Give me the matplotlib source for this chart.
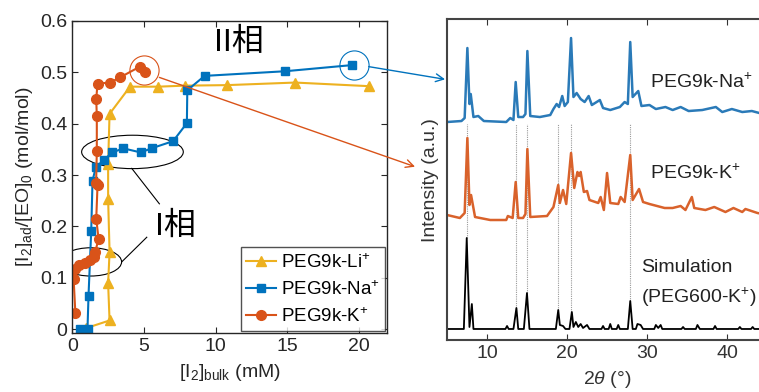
import matplotlib
matplotlib.use("Agg")
import numpy as np
from matplotlib import pyplot as plt
from matplotlib.patches import Ellipse, ConnectionPatch

plt.rcParams['font.family'] = ['Liberation Sans', 'Noto Sans CJK JP', 'DejaVu Sans']
plt.rcParams['mathtext.fontset'] = 'custom'
plt.rcParams['mathtext.rm'] = 'Liberation Sans'
plt.rcParams['mathtext.it'] = 'Liberation Sans:italic'

# --- adsorption isotherms: [I2]bulk (mM) vs [I2]ad/[EO]0 ---
li_x = [0.95, 2.6, 2.5, 2.6, 2.5, 2.5, 2.6, 4.03, 6.0, 7.85, 10.8, 15.56, 20.7]
li_y = [0.002, 0.017, 0.089, 0.150, 0.254, 0.322, 0.419, 0.472, 0.472, 0.474, 0.475, 0.480, 0.473]

na_x = [0.56, 1.06, 1.13, 1.32, 1.41, 1.64, 2.22, 2.8, 3.56, 4.77, 5.53, 7.04, 8.0, 8.03, 9.24, 14.86, 19.54]
na_y = [0.001, 0.001, 0.065, 0.192, 0.289, 0.315, 0.330, 0.344, 0.352, 0.344, 0.352, 0.366, 0.401, 0.465, 0.493, 0.502, 0.514]

k_x = [0.21, 0.09, 0.21, 0.44, 0.9, 1.25, 1.48, 1.6, 1.83, 1.67, 1.76, 1.66, 1.71, 1.71, 1.67, 1.76, 2.64, 3.33, 4.72, 5.07]
k_y = [0.032, 0.098, 0.118, 0.124, 0.128, 0.134, 0.140, 0.150, 0.176, 0.215, 0.280, 0.284, 0.346, 0.414, 0.448, 0.478, 0.480, 0.490, 0.511, 0.501]

# --- XRD patterns: 2theta (deg) vs intensity (a.u., stacked) ---
na_tt = [5.0, 6.8, 7.2, 7.54, 7.8, 7.96, 8.3, 8.9, 9.6, 12.4, 12.9, 13.3, 13.58, 13.9, 14.5, 14.8, 15.04, 15.4,
         16.6, 17.9, 18.3, 18.7, 19.0, 19.4, 19.7, 20.1, 20.5, 20.8, 21.2, 21.7, 22.2, 22.7, 23.1, 24.1, 24.5,
         25.4, 26.6, 27.2, 27.6, 27.9, 28.2, 28.9, 29.3, 30.3, 31.1, 32.3, 33.2, 34.2, 35.2, 36.9, 38.6, 39.4,
         40.6, 41.9, 43.1, 44.5]
na_int = [218, 219, 222, 292, 236, 246, 223, 224, 219, 218, 222, 220, 258, 223, 223, 226, 289, 224,
          223, 225, 231, 236, 233, 244, 234, 238, 302, 243, 247, 241, 238, 244, 235, 240, 232,
          230, 233, 238, 236, 298, 243, 249, 234, 235, 231, 233, 230, 233, 229, 230, 233, 228,
          231, 228, 229, 226]

k_tt = [5.0, 6.6, 7.2, 7.54, 7.8, 8.0, 8.5, 10.4, 12.4, 12.6, 13.2, 13.58, 13.9, 14.5, 14.8, 15.04, 15.4,
        17.5, 18.3, 18.9, 19.1, 19.5, 19.9, 20.5, 20.9, 21.3, 21.5, 21.7, 22.1, 22.5, 22.8, 23.9, 24.2, 24.6,
        25.0, 25.4, 26.4, 26.7, 27.2, 27.9, 28.2, 29.0, 29.5, 30.3, 32.2, 33.2, 34.2, 34.8, 35.6, 35.9, 37.3,
        38.4, 39.8, 40.8, 41.9, 42.3, 43.8, 44.5]
k_int = [125, 122, 127, 202, 135, 145, 123, 120, 120, 124, 122, 158, 122, 122, 126, 191, 123,
         124, 133, 155, 137, 150, 136, 187, 152, 168, 164, 168, 148, 149, 140, 137, 143, 130,
         167, 137, 136, 143, 138, 185, 140, 151, 138, 136, 132, 132, 134, 130, 143, 132, 130,
         133, 128, 132, 128, 131, 127, 126]

sim_tt = [5.0, 7.1, 7.46, 7.8, 8.1, 8.3, 12.3, 12.5, 12.7, 13.3, 13.67, 13.9, 14.6, 14.99, 15.3, 18.6, 18.9,
          19.1, 19.5, 19.8, 20.3, 20.6, 20.8, 21.1, 21.4, 21.7, 22.0, 22.5, 22.8, 24.3, 24.5, 24.7, 25.2,
          25.4, 25.6, 26.2, 26.4, 26.6, 27.6, 27.9, 28.2, 28.6, 28.8, 29.2, 29.5, 30.9, 31.1, 31.4, 31.7,
          31.9, 32.2, 34.3, 34.5, 34.7, 36.1, 36.3, 36.6, 38.3, 38.5, 38.7, 41.4, 41.6, 41.8, 43.0, 43.2,
          43.4, 44.5]
sim_int = [11, 11, 102, 13, 36, 11, 11, 14, 11, 11, 32, 11, 11, 47, 11, 11, 30,
           15, 14, 11, 11, 28, 13, 18, 13, 16, 12, 15, 11, 11, 14, 11, 11,
           16, 11, 11, 15, 11, 11, 39, 11, 11, 16, 15, 11, 11, 15, 12, 15,
           11, 11, 11, 13, 11, 11, 15, 11, 11, 14, 11, 11, 13, 11, 11, 13,
           11, 11]

guide_tt = [7.55, 13.6, 15.02, 18.9, 20.55, 27.9]
guide_top = [216, 216, 216, 216, 216, 216]
guide_bot = [102, 32, 47, 30, 28, 39]

c_li = '#EDB120'
c_na = '#0072BD'
c_k = '#D95319'
txt = '#262626'

fig = plt.figure(figsize=(7.59, 3.92), dpi=100)
ax = fig.add_axes([0.0953, 0.1497, 0.415, 0.797])
ax2 = fig.add_axes([0.589, 0.1327, 0.4216, 0.818])

# left panel
ax.plot(li_x, li_y, '-^', color=c_li, lw=1.5, ms=7, label='PEG9k-Li$^{+}$')
ax.plot(na_x, na_y, '-s', color=c_na, lw=1.5, ms=5.5, label='PEG9k-Na$^{+}$')
ax.plot(k_x, k_y, '-o', color=c_k, lw=1.5, ms=7, label='PEG9k-K$^{+}$')
ax.set_xlim(0, 22)
ax.set_ylim(-0.008, 0.6)
ax.set_xticks([0, 5, 10, 15, 20])
ax.set_yticks([0, 0.1, 0.2, 0.3, 0.4, 0.5, 0.6])
ax.set_yticklabels(['0', '0.1', '0.2', '0.3', '0.4', '0.5', '0.6'])
ax.tick_params(direction='in', top=True, right=True, labelsize=14, colors=txt, length=4)
for s in ax.spines.values():
    s.set_color(txt)
    s.set_linewidth(1.0)
ax.set_xlabel('[I$_2$]$_{\\mathrm{bulk}}$ (mM)', fontsize=14, color=txt, labelpad=5)
ax.set_ylabel('[I$_2$]$_{\\mathrm{ad}}$/[EO]$_0$ (mol/mol)', fontsize=14, color=txt, labelpad=4)
leg = ax.legend(loc='lower right', fontsize=13.5, frameon=True, fancybox=False,
                borderpad=0.3, labelspacing=0.45, handlelength=1.6, handletextpad=0.25,
                borderaxespad=0.1)
leg.get_frame().set_edgecolor(txt)
leg.get_frame().set_linewidth(1.0)

ax.add_patch(Ellipse((4.2, 0.345), 7.1, 0.065, fill=False, ec='black', lw=0.8))
ax.add_patch(Ellipse((1.29, 0.131), 4.3, 0.055, fill=False, ec='black', lw=0.8))
ax.plot([4.15, 6.08], [0.313, 0.244], color='black', lw=0.8)
ax.plot([3.45, 5.2], [0.131, 0.179], color='black', lw=0.8)
ax.text(7.2, 0.2, 'I相', fontsize=23, ha='center', va='center', color='black')
ax.text(11.6, 0.557, 'II相', fontsize=23, ha='center', va='center', color='black')
ax.plot([5.03], [0.504], 'o', mfc='none', mec=c_k, ms=21, mew=0.8)
ax.plot([19.65], [0.515], 'o', mfc='none', mec=c_na, ms=21, mew=0.8)

# right panel
ax2.vlines(guide_tt, guide_bot, guide_top, colors='#9a9a9a', linestyles=(0, (1, 1)), lw=0.8)
ax2.plot(na_tt, na_int, color='#2a7ab8', lw=1.8)
ax2.plot(k_tt, k_int, color='#d9622b', lw=1.8)
ax2.plot(sim_tt, sim_int, color='black', lw=1.3)
ax2.set_xlim(5, 45)
ax2.set_ylim(0, 320.7)
ax2.set_xticks([10, 20, 30, 40])
ax2.set_yticks([])
ax2.tick_params(direction='in', top=True, labelsize=14, colors='#333333', length=4)
for s in ax2.spines.values():
    s.set_color('#444444')
    s.set_linewidth(1.5)
ax2.set_xlabel('2$\\theta$ (°)', fontsize=14, color='#333333', labelpad=5)
ax2.set_ylabel('Intensity (a.u.)', fontsize=14, color='#333333', labelpad=6)
ax2.text(30.4, 258, 'PEG9k-Na$^{+}$', fontsize=14, color='#222222', va='center')
ax2.text(30.4, 167, 'PEG9k-K$^{+}$', fontsize=14, color='#222222', va='center')
ax2.text(29.3, 72, 'Simulation', fontsize=14, color='#222222', va='center')
ax2.text(29.3, 43, '(PEG600-K$^{+}$)', fontsize=14, color='#222222', va='center')

# connectors from the circled points to the patterns
for (xa, ya), (xb, yb), c in [((6.08, 0.49), (1.0, 173.3), c_k),
                              ((20.7, 0.511), (4.75, 260.7), c_na)]:
    con = ConnectionPatch(xyA=(xa, ya), coordsA=ax.transData,
                          xyB=(xb, yb), coordsB=ax2.transData,
                          arrowstyle='->', mutation_scale=14, color=c, lw=1.0)
    fig.add_artist(con)

fig.savefig('out.png', dpi=100)
